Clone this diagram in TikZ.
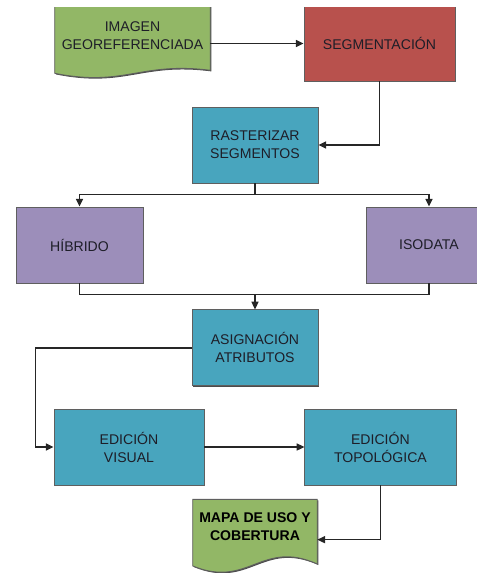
\documentclass[tikz,border=0pt]{standalone}
\usepackage{fontspec}
\setmainfont{Liberation Sans}
\usetikzlibrary{positioning,arrows.meta,calc,shadows,backgrounds}

\definecolor{docgreen}{RGB}{146,183,102}
\definecolor{segred}{RGB}{184,81,77}
\definecolor{procteal}{RGB}{72,165,190}
\definecolor{clspurple}{RGB}{156,142,186}
\definecolor{boxline}{RGB}{95,95,95}
\definecolor{txtdark}{RGB}{30,30,40}

\tikzset{
  box/.style={rectangle, draw=boxline, line width=0.6pt, minimum height=1.9cm,
    text=txtdark, align=center, font=\fontsize{10}{12.8}\selectfont,
    drop shadow={shadow xshift=0.8pt, shadow yshift=-0.8pt, fill=black!70, opacity=1}},
  proc/.style={box, fill=procteal},
  cls/.style={box, fill=clspurple},
  doc/.style={rectangle, align=center, text=txtdark, font=\fontsize{10}{12.8}\selectfont},
  docline/.style={draw=boxline, line width=0.6pt,
    drop shadow={shadow xshift=0.8pt, shadow yshift=-0.8pt, fill=black!70, opacity=1}},
  flow/.style={draw=black!85, line width=1pt, -{Triangle[length=5.5pt,width=5pt]}},
  link/.style={draw=black!85, line width=1pt},
}

% document shape: node, fill, left drop, control 1, control 2, right drop
\newcommand{\docshape}[6]{%
  \draw[docline, fill=#2] (#1.north west) -- ($(#1.south west)+(0,#3)$)
    .. controls ($(#1.south west)!0.45!(#1.south east)+(0,#4)$)
    and ($(#1.south west)!0.55!(#1.south east)+(0,#5)$)
    .. ($(#1.south east)+(0,#6)$) -- (#1.north east) -- cycle;}

\begin{document}
\begin{tikzpicture}[x=0.025cm, y=-0.025cm]
  \path[use as bounding box] (0,0) rectangle (477,573);
  \clip (0,7) rectangle (477,573);

  % Nodes
  \node[doc, minimum width=3.875cm, minimum height=1.475cm] (img_geo) at (132.5,35.5) {IMAGEN\\GEOREFERENCIADA};
  \node[box, fill=segred, minimum width=3.775cm, minimum height=1.875cm] (seg) at (379.5,43.5) {SEGMENTACIÓN};

  \node[proc, minimum width=3.15cm] (ras_seg) at (255,145) {RASTERIZAR\\SEGMENTOS};

  \node[cls, minimum width=3.175cm] (hib) at (79.5,245) {HÍBRIDO};
  \node[cls, minimum width=3.15cm] (iso) at (429,245) {ISODATA};

  \node[proc, minimum width=3.15cm, below=3.15cm of ras_seg] (asg_atr) {ASIGNACIÓN\\ATRIBUTOS};

  \node[proc, minimum width=3.75cm] (ed_vis) at (129,447) {EDICIÓN\\VISUAL};
  \node[proc, minimum width=3.775cm, right=2.5cm of ed_vis] (ed_top) {EDICIÓN\\TOPOLÓGICA};

  \node[doc, minimum width=3.1cm, minimum height=1.35cm, text=black,
        font=\fontsize{10}{12.8}\selectfont\bfseries, below=2.825cm of asg_atr] (mapa) {MAPA DE USO Y\\COBERTURA};

  \begin{pgfonlayer}{background}
    \clip (0,7) rectangle (477,573);
    \docshape{img_geo}{docgreen}{8}{22}{-4}{5}
    \docshape{mapa}{docgreen}{12}{35}{-15}{10}
  \end{pgfonlayer}

  % Edges
  \draw[flow] (seg.west -| img_geo.east) -- (seg.west);
  \draw[flow] (seg.south) |- (ras_seg.east);

  \path (ras_seg.south) ++(0,11) coordinate (split);
  \draw[link] (ras_seg.south) -- (split);
  \draw[flow] (split) -| (hib.north);
  \draw[flow] (split) -| (iso.north);

  \path (hib.south -| asg_atr.north) ++(0,11) coordinate (merge);
  \draw[link] (hib.south) |- (merge) -| (iso.south);
  \draw[flow] (merge) -- (asg_atr.north);

  \path (asg_atr.west) ++(-156,0) coordinate (loop);
  \draw[flow] (asg_atr.west) -- (loop) |- (ed_vis.west);
  \draw[flow] (ed_vis.east) -- (ed_top.west);

  \path (mapa.east) ++(0,13) coordinate (mapa_in);
  \draw[flow] (ed_top.south) |- (mapa_in);
\end{tikzpicture}
\end{document}
